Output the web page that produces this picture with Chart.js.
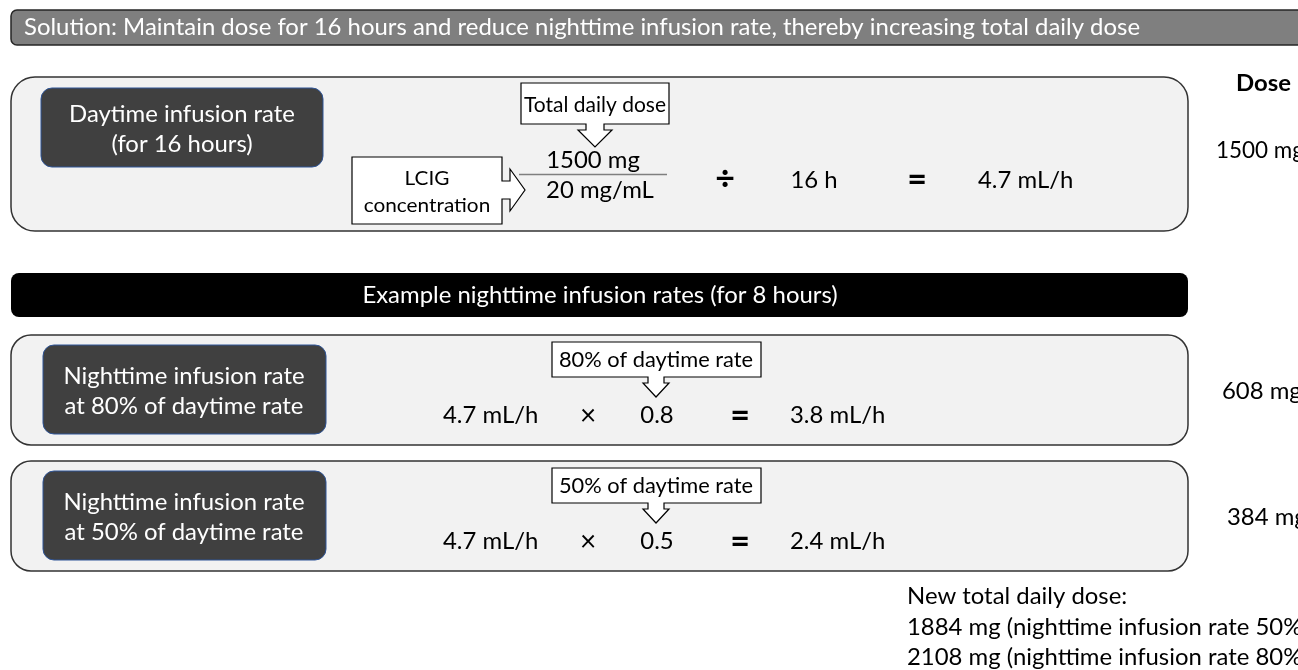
<!DOCTYPE html>
<html>
<head>
<meta charset="utf-8">
<script src="https://cdn.jsdelivr.net/npm/chart.js@4"></script>
<style>
  html, body { margin:0; padding:0; background:#fff; }
  #wrap { position:relative; width:1298px; height:670px; overflow:hidden; }
</style>
</head>
<body>
<div id="wrap"><canvas id="c"></canvas></div>
<script>
// ---- values ----
var headline = 'Solution: Maintain dose for 16 hours and reduce nighttime infusion rate, thereby increasing total daily dose';
var nightTitle = 'Example nighttime infusion rates (for 8 hours)';
var dayLabel = ['Daytime infusion rate', '(for 16 hours)'];
var nightLabels = [['Nighttime infusion rate', 'at 80% of daytime rate'], ['Nighttime infusion rate', 'at 50% of daytime rate']];
var totalDailyDose = 1500;     // mg
var concentration = 20;        // mg/mL
var dayHours = 16;             // h
var dayRate = 4.7;             // mL/h
var nightPercents = [80, 50];
var nightFactors = [0.8, 0.5];
var nightRates = [3.8, 2.4];   // mL/h
var doses = [1500, 608, 384];  // mg
var newTotals = [1884, 2108];  // mg
var newTotalPercents = [50, 80];

var FONT = 'Lato, "Open Sans", sans-serif';
var BASE = 23;
var hScale = 1;

function rr(ctx, x1, y1, x2, y2, r) {
  ctx.beginPath();
  ctx.moveTo(x1 + r, y1);
  ctx.arcTo(x2, y1, x2, y2, r);
  ctx.arcTo(x2, y2, x1, y2, r);
  ctx.arcTo(x1, y2, x1, y1, r);
  ctx.arcTo(x1, y1, x2, y1, r);
  ctx.closePath();
}

function txt(ctx, s, x, y, o) {
  o = o || {};
  ctx.save();
  ctx.font = (o.bold ? 'bold ' : '') + (o.size || BASE) + 'px ' + FONT;
  ctx.fillStyle = o.color || '#000';
  ctx.textAlign = o.align || 'left';
  ctx.textBaseline = 'middle';
  var sx = o.noScale ? 1 : hScale;
  if (o.maxW) {
    var w = ctx.measureText(s).width * sx;
    if (w > o.maxW) sx = sx * o.maxW / w;
  }
  ctx.translate(x, y + 1.5);
  ctx.scale(sx, 1);
  ctx.fillText(s, 0, 0);
  ctx.restore();
}

// callout box with an arrow pointing down from its bottom edge
function downCallout(ctx, x1, y1, x2, y2, cx, shaft, head, headTop, tipY) {
  ctx.beginPath();
  ctx.moveTo(x1, y1); ctx.lineTo(x2, y1); ctx.lineTo(x2, y2);
  ctx.lineTo(cx + shaft, y2); ctx.lineTo(cx + shaft, headTop); ctx.lineTo(cx + head, headTop);
  ctx.lineTo(cx, tipY);
  ctx.lineTo(cx - head, headTop); ctx.lineTo(cx - shaft, headTop); ctx.lineTo(cx - shaft, y2);
  ctx.lineTo(x1, y2); ctx.closePath();
  ctx.fillStyle = '#fff'; ctx.fill();
  ctx.strokeStyle = '#000'; ctx.lineWidth = 1.2; ctx.stroke();
}

// callout box with an arrow pointing right from its right edge
function rightCallout(ctx, x1, y1, x2, y2, cy, shaft, head, headX, tipX) {
  ctx.beginPath();
  ctx.moveTo(x1, y1); ctx.lineTo(x2, y1); ctx.lineTo(x2, cy - shaft);
  ctx.lineTo(headX, cy - shaft); ctx.lineTo(headX, cy - head); ctx.lineTo(tipX, cy);
  ctx.lineTo(headX, cy + head); ctx.lineTo(headX, cy + shaft); ctx.lineTo(x2, cy + shaft);
  ctx.lineTo(x2, y2); ctx.lineTo(x1, y2); ctx.closePath();
  ctx.fillStyle = '#fff'; ctx.fill();
  ctx.strokeStyle = '#000'; ctx.lineWidth = 1.2; ctx.stroke();
}

var diagramPlugin = {
  id: 'diagram',
  afterDraw: function(chart) {
    var ctx = chart.ctx;
    var X = function(v) { return chart.scales.x.getPixelForValue(v); };
    var Y = function(v) { return chart.scales.y.getPixelForValue(v); };

    ctx.save();
    ctx.font = BASE + 'px ' + FONT;
    hScale = 1116 / ctx.measureText(headline).width;
    ctx.restore();

    // headline bar
    ctx.save();
    rr(ctx, X(11), Y(10), X(1320), Y(45), 6);
    ctx.fillStyle = '#7f7f7f'; ctx.fill();
    ctx.strokeStyle = '#262626'; ctx.lineWidth = 1.5; ctx.stroke();
    ctx.restore();
    txt(ctx, headline, X(24), Y(26), { color:'#fff' });

    // daytime panel
    ctx.save();
    rr(ctx, X(11), Y(77), X(1188), Y(231), 24);
    ctx.fillStyle = '#f2f2f2'; ctx.fill();
    ctx.strokeStyle = '#333'; ctx.lineWidth = 1.5; ctx.stroke();
    rr(ctx, X(41), Y(88), X(323), Y(167), 11);
    ctx.fillStyle = '#404040'; ctx.fill();
    ctx.strokeStyle = '#2f5597'; ctx.lineWidth = 1; ctx.stroke();
    ctx.restore();
    txt(ctx, dayLabel[0], X(182), Y(113), { color:'#fff', align:'center' });
    txt(ctx, dayLabel[1], X(182), Y(143), { color:'#fff', align:'center' });

    downCallout(ctx, X(521), Y(83), X(669), Y(124), X(595), 9, 17, Y(130), Y(147));
    txt(ctx, 'Total daily dose', X(595), Y(104), { size:21, align:'center', maxW:142 });
    rightCallout(ctx, X(352), Y(157), X(502), Y(224), Y(190), 9, 21, X(510), X(525));
    txt(ctx, 'LCIG', X(427), Y(177), { size:20, align:'center' });
    txt(ctx, 'concentration', X(427), Y(204), { size:20, align:'center', maxW:128 });

    txt(ctx, totalDailyDose + ' mg', X(593), Y(159), { align:'center' });
    ctx.save();
    ctx.beginPath(); ctx.moveTo(X(519), Y(174.5)); ctx.lineTo(X(667), Y(174.5));
    ctx.strokeStyle = '#7f7f7f'; ctx.lineWidth = 1.5; ctx.stroke();
    ctx.restore();
    txt(ctx, concentration + ' mg/mL', X(600), Y(189), { align:'center' });
    txt(ctx, '\u00F7', X(725), Y(178), { size:34, align:'center', bold:true, noScale:true });
    txt(ctx, dayHours + ' h', X(814), Y(179), { align:'center' });
    txt(ctx, '=', X(917), Y(179), { size:34, align:'center', bold:true, noScale:true });
    txt(ctx, dayRate + ' mL/h', X(978), Y(179));

    // dose column
    txt(ctx, 'Dose', X(1236), Y(82), { bold:true });
    txt(ctx, doses[0] + ' mg', X(1216), Y(149), { maxW:88 });

    // nighttime title bar
    ctx.save();
    rr(ctx, X(11), Y(273), X(1188), Y(317), 8);
    ctx.fillStyle = '#000'; ctx.fill();
    ctx.restore();
    txt(ctx, nightTitle, X(600), Y(294), { color:'#fff', align:'center' });

    // nighttime panels
    var tops = [335, 461];
    var doseX = [1222, 1227];
    for (var i = 0; i < nightFactors.length; i++) {
      var t = tops[i];
      ctx.save();
      rr(ctx, X(11), Y(t), X(1188), Y(t + 110), 20);
      ctx.fillStyle = '#f2f2f2'; ctx.fill();
      ctx.strokeStyle = '#333'; ctx.lineWidth = 1.5; ctx.stroke();
      rr(ctx, X(43), Y(t + 10), X(326), Y(t + 99), 11);
      ctx.fillStyle = '#404040'; ctx.fill();
      ctx.strokeStyle = '#2f5597'; ctx.lineWidth = 1; ctx.stroke();
      ctx.restore();
      txt(ctx, nightLabels[i][0], X(184), Y(t + 40), { color:'#fff', align:'center' });
      txt(ctx, nightLabels[i][1], X(184), Y(t + 70), { color:'#fff', align:'center' });

      downCallout(ctx, X(552), Y(t + 7), X(761), Y(t + 42), X(656), 8, 13, Y(t + 48), Y(t + 62));
      txt(ctx, nightPercents[i] + '% of daytime rate', X(656), Y(t + 24), { size:21, align:'center', maxW:198 });

      var ry = t + 79;
      txt(ctx, dayRate + ' mL/h', X(443), Y(ry));
      txt(ctx, '\u00D7', X(588), Y(ry), { size:28, align:'center', noScale:true });
      txt(ctx, String(nightFactors[i]), X(657), Y(ry), { align:'center' });
      txt(ctx, '=', X(740), Y(ry + 1), { size:34, align:'center', bold:true, noScale:true });
      txt(ctx, nightRates[i] + ' mL/h', X(790), Y(ry));

      txt(ctx, doses[i + 1] + ' mg', X(doseX[i]), Y(t + 55));
    }

    // new totals
    txt(ctx, 'New total daily dose:', X(907), Y(595));
    txt(ctx, newTotals[0] + ' mg (nighttime infusion rate ' + newTotalPercents[0] + '%)', X(907), Y(626));
    txt(ctx, newTotals[1] + ' mg (nighttime infusion rate ' + newTotalPercents[1] + '%)', X(907), Y(656));
  }
};

new Chart(document.getElementById('c'), {
  type: 'scatter',
  data: { datasets: [] },
  options: {
    responsive: true,
    maintainAspectRatio: false,
    animation: false,
    layout: { padding: 0 },
    plugins: { legend: { display:false }, tooltip: { enabled:false } },
    scales: {
      x: { type:'linear', min:0, max:1298, display:false },
      y: { type:'linear', min:0, max:670, reverse:true, display:false }
    }
  },
  plugins: [diagramPlugin]
});
</script>
</body>
</html>
